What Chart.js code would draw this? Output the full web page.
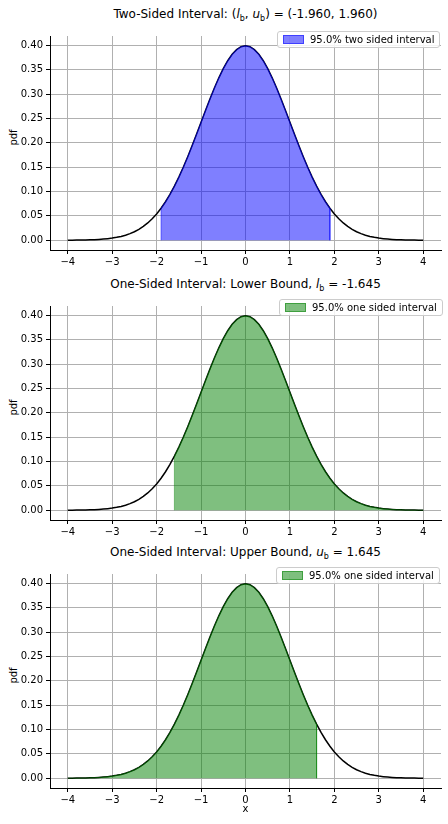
<!DOCTYPE html>
<html><head><meta charset="utf-8">
<script src="https://cdn.jsdelivr.net/npm/chart.js@4"></script>
<style>
body{margin:0;width:448px;height:824px;background:#fff;position:relative;font-family:"DejaVu Sans",sans-serif;overflow:hidden}
.c{position:absolute;left:0;width:448px}
.t{position:absolute;left:50px;width:391px;text-align:center;font-size:12px;color:#000}
.yl{position:absolute;left:5px;font-size:10px;transform:rotate(-90deg);transform-origin:center}
.lg{position:absolute;border:1px solid #ccc;border-radius:3px;background:rgba(255,255,255,0.85);font-size:10px;padding:2px 5px;display:flex;align-items:center;white-space:nowrap}
.lg span.p{display:inline-block;width:19px;height:7px;margin-right:6px}
sub{font-size:8px}
</style></head><body>
<script>
const pdfValues=[0.0001,0.0002,0.0003,0.0004,0.0006,0.0009,0.0012,0.0017,0.0024,0.0033,0.0044,0.0060,0.0079,0.0104,0.0136,0.0175,0.0224,0.0283,0.0355,0.0440,0.0540,0.0656,0.0790,0.0940,0.1109,0.1295,0.1497,0.1714,0.1942,0.2179,0.2420,0.2661,0.2897,0.3123,0.3332,0.3521,0.3683,0.3814,0.3910,0.3970,0.3989,0.3970,0.3910,0.3814,0.3683,0.3521,0.3332,0.3123,0.2897,0.2661,0.2420,0.2179,0.1942,0.1714,0.1497,0.1295,0.1109,0.0940,0.0790,0.0656,0.0540,0.0440,0.0355,0.0283,0.0224,0.0175,0.0136,0.0104,0.0079,0.0060,0.0044,0.0033,0.0024,0.0017,0.0012,0.0009,0.0006,0.0004,0.0003,0.0002,0.0001];
const xValues=pdfValues.map((_,i)=>Math.round((i*0.1-4)*10)/10);
const xTicks=[-4,-3,-2,-1,0,1,2,3,4];
const yTicks=[0,0.05,0.10,0.15,0.20,0.25,0.30,0.35,0.40];
const intervals=[[-1.96,1.96],[-1.645,4],[-4,1.645]];
const titles=['Two-Sided Interval: (<i>l</i><sub>b</sub>, <i>u</i><sub>b</sub>) = (-1.960, 1.960)','One-Sided Interval: Lower Bound, <i>l</i><sub>b</sub> = -1.645','One-Sided Interval: Upper Bound, <i>u</i><sub>b</sub> = 1.645'];
const legends=['95.0% two sided interval','95.0% one sided interval','95.0% one sided interval'];
const fills=['rgba(0,0,255,0.5)','rgba(0,128,0,0.5)','rgba(0,128,0,0.5)'];
const tops=[27,297,565];
const legPos=[[277,31],[279,299],[276,567]];
const H=223;
const minus=v=>String(v).replace('-','\u2212');
for(let k=0;k<3;k++){
  const t=document.createElement('div');t.className='t';t.style.top=(tops[k]-20)+'px';t.innerHTML=titles[k];document.body.appendChild(t);
  const yl=document.createElement('div');yl.className='yl';yl.textContent='pdf';yl.style.top=(tops[k]+H/2-7)+'px';document.body.appendChild(yl);
  const d=document.createElement('div');d.className='c';d.style.top=tops[k]+'px';d.style.height=(H+24)+'px';
  const cv=document.createElement('canvas');d.appendChild(cv);document.body.appendChild(d);
  const [lo,hi]=intervals[k];
  const curve=xValues.map((x,i)=>({x,y:pdfValues[i]}));
  const inside=curve.filter(p=>p.x>=lo-1e-9&&p.x<=hi+1e-9);
  const fillData=[{x:inside[0].x,y:0},...inside,{x:inside[inside.length-1].x,y:0}];
  new Chart(cv,{type:'line',data:{datasets:[
    {data:fillData,fill:'origin',backgroundColor:fills[k],borderColor:fills[k],borderWidth:1,pointRadius:0,tension:0},
    {data:curve,fill:false,borderColor:'#000',borderWidth:1.5,pointRadius:0,tension:0}
  ]},options:{animation:false,responsive:true,maintainAspectRatio:false,
    layout:{padding:{left:0,right:7,top:0,bottom:0}},
    plugins:{legend:{display:false},tooltip:{enabled:false}},
    scales:{
      x:{type:'linear',min:-4.4,max:4.4,afterBuildTicks:a=>{a.ticks=xTicks.map(v=>({value:v}))},afterFit:a=>{a.height=24},
        ticks:{color:'#000',font:{family:'DejaVu Sans',size:10},maxRotation:0,callback:v=>minus(v),padding:2},
        grid:{color:'#b0b0b0',tickColor:'#000',tickLength:4},border:{color:'#000'}},
      y:{min:-0.02,max:0.419,afterBuildTicks:a=>{a.ticks=yTicks.map(v=>({value:v}))},afterFit:a=>{a.width=50},
        ticks:{color:'#000',font:{family:'DejaVu Sans',size:10},callback:v=>v.toFixed(2),padding:3},
        grid:{color:'#b0b0b0',tickColor:'#000',tickLength:4},border:{color:'#000'}}
    }}});
  const lg=document.createElement('div');lg.className='lg';lg.style.left=legPos[k][0]+'px';lg.style.top=legPos[k][1]+'px';
  lg.innerHTML='<span class="p" style="background:'+fills[k]+';border:1px solid '+fills[k]+'"></span>'+legends[k];document.body.appendChild(lg);
}
const xl=document.createElement('div');xl.style.cssText='position:absolute;left:50px;width:391px;text-align:center;top:803px;font-size:10px';xl.textContent='x';document.body.appendChild(xl);
</script>
</body></html>
